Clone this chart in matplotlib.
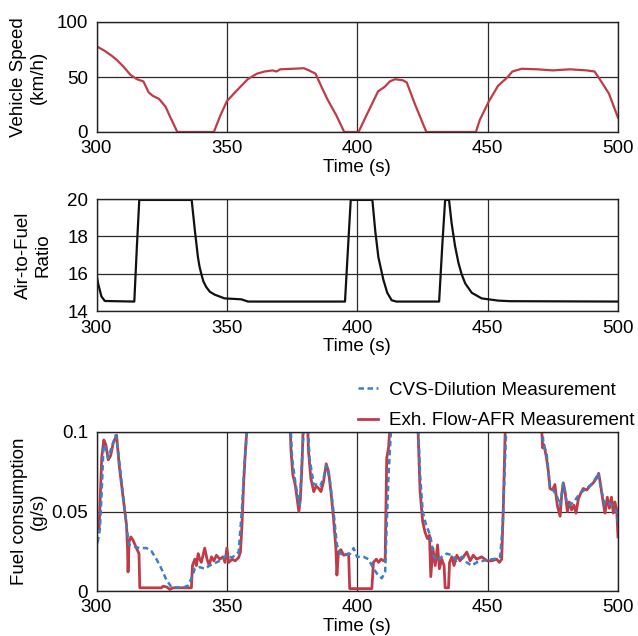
import matplotlib
matplotlib.use("Agg")
import matplotlib.pyplot as plt

plt.rcParams['font.family'] = ['Liberation Sans', 'DejaVu Sans']
plt.rcParams['font.size'] = 13.5

# vehicle speed (km/h)
t_speed = [300, 303, 306, 308, 310.5, 313, 315.5, 318, 320, 321.5, 324, 326.5, 328, 331, 345, 347.5,
           350, 353.5, 358, 361.5, 364.5, 367.5, 369, 370.5, 375.5, 379.5, 381.5, 384, 386.5,
           388.5, 392, 395, 400.5, 403.5, 408, 410.5, 412.5, 414.5, 417.5, 419, 422, 426.5,
           445.5, 447, 450.5, 454, 457.5, 459.5, 463, 469, 475, 481.5, 488, 491, 493, 496.5, 500]
speed = [78, 74, 69, 65, 59, 52, 48, 46, 36, 33, 30, 23, 15, 0, 0, 15,
         28, 37, 48, 53, 55, 56, 55, 57, 57.5, 58, 56, 53, 40,
         30, 15, 0, 0, 15, 37, 41, 46, 48, 47, 45, 26, 0,
         0, 11, 28, 42, 49.5, 55, 57.5, 57, 56, 57, 56, 55, 48, 35, 13]

# air-to-fuel ratio
t_afr = [300, 300.6, 301.9, 303.2, 314.5, 315.5, 316.4, 336.5, 337.7, 338.9, 339.5, 340.2, 341,
         342.1, 343.5, 345.3, 349.1, 355.5, 358.1, 395.3, 396.5, 397.5, 405.8, 406.9, 408.1, 410,
         411.5, 413.2, 415, 431.4, 432.6, 433.7, 435.2, 436.2, 437.5, 438.8, 440, 441.4, 443.9,
         447.7, 454.1, 458.6, 500]
afr = [16.0, 15.5, 14.8, 14.56, 14.53, 17.5, 19.95, 19.95, 18.35, 16.9, 16.4, 16.0, 15.6,
       15.3, 15.05, 14.9, 14.7, 14.65, 14.53, 14.53, 17.5, 19.95, 19.95, 18.3, 16.9, 15.7,
       15.0, 14.6, 14.53, 14.53, 17.5, 19.95, 19.95, 18.7, 17.5, 16.6, 16.0, 15.5, 15.0,
       14.7, 14.58, 14.55, 14.53]

# fuel consumption (g/s), exhaust flow-AFR
t_exh = [300, 300.3, 301, 302, 302.8, 303.6, 304.5, 305.4, 306.4, 307.7, 308.7, 309.6, 310.6,
         311.5, 311.9, 312.1, 312.5, 313.2, 314, 315.3, 316.3, 316.6, 324.9, 325.5, 327, 328.1,
         329.4, 336.4, 336.8, 337.7, 338.3, 339, 339.6, 340.2, 341.5, 342.4, 343.2, 344.1, 345,
         346, 347.3, 348.5, 349.3, 350, 350.7, 352, 353.2, 354.5, 355.2, 355.8, 356.4, 357.1,
         357.8, 359, 373.5, 374.6, 375.3, 376.2, 377.1, 377.6, 378.2, 378.8, 379.6, 380.6, 381.3,
         382.2, 383.3, 384.3, 385.2, 386.1, 387.1, 388.1, 389, 389.9, 390.9, 391.8, 392.2, 392.8,
         393.7, 394.8, 396.7, 397.1, 405.6, 406.2, 407.3, 408.2, 409.1, 410.1, 410.7, 411.3, 412,
         412.8, 414, 422.5, 424.1, 425.1, 426, 426.9, 427.7, 428.2, 429, 429.9, 430.8, 431.5,
         432.4, 433.3, 433.7, 435, 435.4, 436.3, 437.1, 438.2, 439.4, 440.7, 442, 443.3, 444.5,
         445.8, 447.7, 449.7, 451.6, 453.5, 454.5, 455.4, 456, 456.8, 458, 469.5, 471.1, 471.6,
         472.6, 473.3, 473.9, 474.9, 475.8, 476.7, 477.8, 478.4, 479, 479.7, 480.6, 481.3, 482.2,
         483.1, 483.9, 484.8, 485.7, 486.7, 488, 489.2, 490.5, 491.8, 492.6, 493.3, 494.1, 495,
         495.9, 496.7, 497.5, 498.2, 498.8, 499.5, 500]
fuel_exh = [0.048, 0.041, 0.039, 0.084, 0.095, 0.092, 0.0825, 0.085, 0.093, 0.098, 0.079, 0.067, 0.054,
            0.0415, 0.027, 0.012, 0.031, 0.034, 0.032, 0.027, 0.0235, 0.002, 0.002, 0.003, 0.0025, 0.001,
            0.002, 0.002, 0.016, 0.020, 0.016, 0.0235, 0.020, 0.018, 0.027, 0.020, 0.016, 0.0215, 0.019,
            0.0225, 0.020, 0.0215, 0.018, 0.027, 0.018, 0.020, 0.019, 0.021, 0.0245, 0.0415, 0.067, 0.088,
            0.105, 0.14, 0.14, 0.088, 0.073, 0.067, 0.056, 0.050, 0.058, 0.079, 0.12, 0.12, 0.088,
            0.071, 0.0625, 0.066, 0.0645, 0.0625, 0.069, 0.080, 0.075, 0.0625, 0.0455, 0.027, 0.010, 0.0245,
            0.026, 0.0225, 0.0235, 0.0015, 0.0015, 0.018, 0.020, 0.018, 0.020, 0.019, 0.020, 0.0835, 0.090,
            0.11, 0.14, 0.14, 0.0625, 0.0435, 0.037, 0.033, 0.035, 0.009, 0.027, 0.016, 0.029, 0.014,
            0.020, 0.016, 0.002, 0.002, 0.018, 0.0215, 0.016, 0.0225, 0.019, 0.0215, 0.0245, 0.019, 0.0225,
            0.020, 0.0215, 0.019, 0.019, 0.020, 0.018, 0.020, 0.052, 0.105, 0.14, 0.14, 0.090, 0.092,
            0.0835, 0.075, 0.0645, 0.0635, 0.067, 0.054, 0.047, 0.060, 0.068, 0.0625, 0.050, 0.056, 0.051,
            0.054, 0.049, 0.058, 0.0615, 0.0645, 0.0635, 0.066, 0.068, 0.071, 0.074, 0.067, 0.058, 0.049,
            0.059, 0.052, 0.059, 0.049, 0.056, 0.051, 0.034]

# fuel consumption (g/s), CVS dilution
t_cvs = [300, 300.3, 301.3, 302, 302.6, 303.2, 304.5, 305.7, 307.4, 308.3, 309.6, 310.9, 311.8,
         312.5, 314, 316.6, 319.2, 321.1, 323, 324.9, 326.8, 328.7, 333.2, 335.1, 336.4, 337.7,
         339.6, 341.5, 343.4, 346, 348.5, 349.8, 352, 354.5, 355.8, 356.7, 357.7, 359, 373.5,
         375, 376.2, 377.3, 377.9, 378.5, 379.4, 380.5, 381.7, 383.3, 384.5, 385.8, 387.1, 388.1,
         389.4, 390.9, 392.2, 393.5, 395.4, 397.3, 398.6, 399.9, 402.4, 404.3, 405.6, 407.5, 409.4,
         410.7, 411.3, 412, 412.9, 414, 422.5, 424.1, 425.1, 426.4, 428, 429.2, 430.5, 432.4,
         434.3, 436.3, 438.2, 440.1, 442, 443.9, 445.8, 448.4, 450.3, 452.2, 454.8, 455.8, 456.7,
         457.1, 458, 469.5, 471.4, 472.6, 473.9, 475.2, 476.7, 477.8, 479, 480.3, 481.6, 483.5,
         485.4, 488, 490.5, 492.4, 493.7, 495, 496.9, 498.2, 499.5, 500]
fuel_cvs = [0.033, 0.029, 0.039, 0.0625, 0.088, 0.092, 0.0835, 0.090, 0.098, 0.088, 0.069, 0.050, 0.037,
            0.029, 0.028, 0.027, 0.027, 0.025, 0.020, 0.014, 0.007, 0.0025, 0.002, 0.0035, 0.008, 0.014,
            0.015, 0.014, 0.016, 0.018, 0.020, 0.0225, 0.021, 0.0245, 0.052, 0.079, 0.10, 0.14, 0.14,
            0.0835, 0.069, 0.058, 0.054, 0.073, 0.10, 0.12, 0.0835, 0.067, 0.067, 0.066, 0.071, 0.079,
            0.071, 0.050, 0.029, 0.0235, 0.0225, 0.0235, 0.027, 0.0215, 0.0215, 0.020, 0.016, 0.011, 0.008,
            0.012, 0.0415, 0.073, 0.10, 0.14, 0.14, 0.073, 0.050, 0.0415, 0.035, 0.0225, 0.019, 0.0215,
            0.0235, 0.0225, 0.019, 0.0215, 0.018, 0.016, 0.018, 0.019, 0.020, 0.020, 0.0215, 0.0415, 0.0835,
            0.10, 0.14, 0.14, 0.092, 0.087, 0.066, 0.0635, 0.059, 0.054, 0.068, 0.056, 0.054, 0.057,
            0.0615, 0.0645, 0.068, 0.074, 0.0625, 0.054, 0.055, 0.053, 0.050, 0.042]

red = '#bf3b47'
blue = '#3d7fc1'
W, H = 638, 636

fig = plt.figure(figsize=(W / 100, H / 100), dpi=100)

def box(left, top, right, bottom):
    return [left / W, 1 - bottom / H, (right - left) / W, (bottom - top) / H]

def style(ax, yticks, ylabels):
    ax.set_xlim(300, 500)
    ax.set_xticks([300, 350, 400, 450, 500])
    ax.set_yticks(yticks)
    ax.set_yticklabels(ylabels)
    ax.tick_params(length=0, pad=6)
    ax.grid(True, color='#2a2a2a', lw=0.9)
    ax.set_axisbelow(True)
    for s in ax.spines.values():
        s.set_linewidth(1.0)
        s.set_color('#222222')
    ax.set_xlabel('Time (s)', labelpad=1)

ax1 = fig.add_axes(box(96.5, 22, 618, 132))
ax1.plot(t_speed, speed, color=red, lw=1.6)
ax1.set_ylim(0, 100)
style(ax1, [0, 50, 100], ['0', '50', '100'])
ax1.set_ylabel('Vehicle Speed\n(km/h)', labelpad=7)

ax2 = fig.add_axes(box(96.5, 199, 618, 311.5))
ax2.plot(t_afr, afr, color='#111111', lw=1.6)
ax2.set_ylim(14, 20)
style(ax2, [14, 16, 18, 20], ['14', '16', '18', '20'])
ax2.set_ylabel('Air-to-Fuel\nRatio', labelpad=11)

ax3 = fig.add_axes(box(96.5, 432, 618, 591))
l_exh, = ax3.plot(t_exh, fuel_exh, color=red, lw=2.0)
l_cvs, = ax3.plot(t_cvs, fuel_cvs, color=blue, lw=1.8, linestyle=(0, (2.2, 1.4)))
ax3.set_ylim(0, 0.1)
style(ax3, [0, 0.05, 0.1], ['0', '0.05', '0.1'])
ax3.set_ylabel('Fuel consumption\n(g/s)', labelpad=3)

fig.legend([l_cvs, l_exh], ['CVS-Dilution Measurement', 'Exh. Flow-AFR Measurement'],
           loc='upper right', bbox_to_anchor=(1.0, 1 - 378 / H), frameon=False,
           handlelength=1.1, handletextpad=0.55, labelspacing=0.7, borderaxespad=0.0,
           borderpad=0.2)

fig.savefig('out.png', dpi=100)
